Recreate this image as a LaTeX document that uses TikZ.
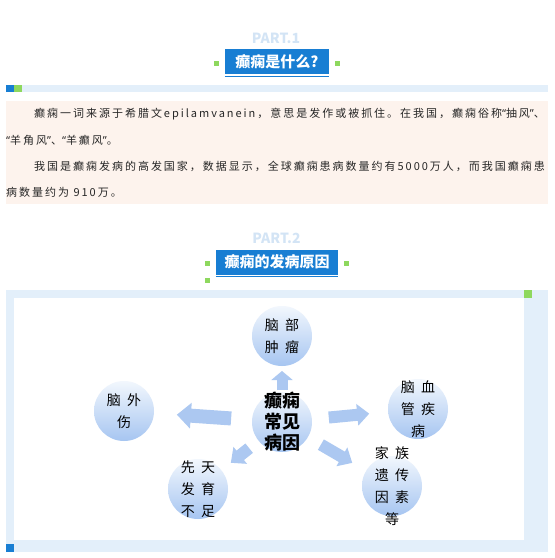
\documentclass[tikz,border=0pt]{standalone}
\usepackage{fontspec}
\setmainfont{Noto Sans CJK SC}
\newfontfamily\paraFont{Noto Sans CJK SC}[LetterSpace=18]
\newfontfamily\ringFont{Noto Sans CJK SC}[LetterSpace=45]
\newfontfamily\quoteFont{Noto Sans}
\newcommand\lquo{{\quoteFont “}}
\newcommand\rquo{{\quoteFont ”}}
\usepackage{tikz}
\usetikzlibrary{arrows.meta, calc}

\definecolor{titleblue}{RGB}{24,126,211}
\definecolor{taggreen}{RGB}{142,216,94}
\definecolor{barblue}{RGB}{227,239,250}
\definecolor{partblue}{RGB}{211,228,245}
\definecolor{peach}{RGB}{253,243,237}
\definecolor{ringtop}{RGB}{242,247,253}
\definecolor{ringbot}{RGB}{166,197,241}
\definecolor{arrowblue}{RGB}{172,200,241}

\begin{document}
\begin{tikzpicture}[
  x=1pt, y=-1pt,
  part/.style={font=\bfseries\fontsize{14}{14}\selectfont, text=partblue, inner sep=0pt},
  title/.style={fill=titleblue, text=white, font=\bfseries\fontsize{15}{15}\selectfont,
    minimum height=25pt, inner sep=0pt},
  para/.style={anchor=west, font=\paraFont\fontsize{11}{11}\selectfont, text=black!85, inner sep=0pt},
  ring/.style={circle, minimum size=60pt, inner sep=0pt, top color=ringtop, bottom color=ringbot},
  ringtxt/.style={align=center, inner sep=0pt, font=\ringFont\fontsize{14}{22}\selectfont},
  hubtxt/.style={align=center, inner sep=0pt, font=\bfseries\fontsize{18}{21}\selectfont},
  flow/.style={arrowblue, line width=12pt, -{Triangle[length=12pt, width=21pt]}},
]
\useasboundingbox (0,0) rectangle (555,558);

% ===== PART.1 header =====
\node[part] (p1) at (276,38) {PART.1};
\node[title, minimum width=104pt] (t1) at (277,61.5) {癫痫是什么?};
\draw[titleblue, line width=1pt] ([yshift=-2pt]t1.south west) -- ([yshift=-2pt]t1.south east);
\fill[taggreen] (214,61) rectangle (219,66);
\fill[taggreen] (335,61) rectangle (340,66);

% bar under the header
\fill[barblue] (6,85) rectangle (548,92);
\fill[titleblue] (6,85) rectangle (14,92);
\fill[taggreen] (14,85) rectangle (22,92);

% ===== text block =====
\fill[peach] (6,101) rectangle (548,204);
\node[para] (l1) at (34,114) {癫痫一词来源于希腊文epilamvanein，意思是发作或被抓住。在我国，癫痫俗称\lquo 抽风\rquo 、};
\node[para] (l2) at (6,140) {\lquo 羊角风\rquo 、\lquo 羊癫风\rquo 。};
\node[para] (l3) at (34,166) {我国是癫痫发病的高发国家，数据显示，全球癫痫患病数量约有5000万人，而我国癫痫患};
\node[para] (l4) at (6,192) {病数量约为 910万。};

% ===== PART.2 header =====
\node[part] (p2) at (276.5,238) {PART.2};
\node[title, minimum width=122pt] (t2) at (277,262) {癫痫的发病原因};
\draw[titleblue, line width=1pt] ([yshift=-2pt]t2.south west) -- ([yshift=-2pt]t2.south east);
\fill[taggreen] (205,261) rectangle (210,266);
\fill[taggreen] (205,278) rectangle (210,283);
\fill[taggreen] (344,261) rectangle (349,266);

% frame
\fill[barblue] (6,290) rectangle (548,552);
\fill[white] (14,298) rectangle (524,540);
\fill[taggreen] (524,290) rectangle (532,298);
\fill[titleblue] (6,544) rectangle (14,552);

% ===== causes diagram =====
\node[ring] (hub) at (282,422) {};
\node[ring] (tumor) at (282,336) {};
\node[ring] (trauma) at (124,411) {};
\node[ring] (vessel) at (418,409) {};
\node[ring] (family) at (392,486) {};
\node[ring] (birth) at (198,489) {};

\draw[flow, line width=11pt, -{Triangle[length=9pt, width=21pt]}, shorten <=32pt, shorten >=35pt] (hub.center) -- (tumor.center);
\draw[flow, line width=14pt, -{Triangle[length=14pt, width=25pt]}, shorten <=51pt, shorten >=53pt] (hub.center) -- (trauma.center);
\draw[flow, shorten <=47pt, shorten >=49pt] (hub.center) -- (vessel.center);
\draw[flow, shorten <=45pt, shorten >=46pt] (hub.center) -- (family.center);
\draw[flow, shorten <=42pt, shorten >=42pt] (hub.center) -- (birth.center);

\node[hubtxt] (hubl) at (hub) {癫痫\\常见\\病因};
\node[ringtxt] (tumorl) at (tumor) {脑部\\肿瘤};
\node[ringtxt] (traumal) at (trauma) {脑外\\伤};
\node[ringtxt] (vessell) at (vessel) {脑血\\管疾\\病};
\node[ringtxt] (familyl) at (family) {家族\\遗传\\因素\\等};
\node[ringtxt] (birthl) at (birth) {先天\\发育\\不足};

\end{tikzpicture}
\end{document}
